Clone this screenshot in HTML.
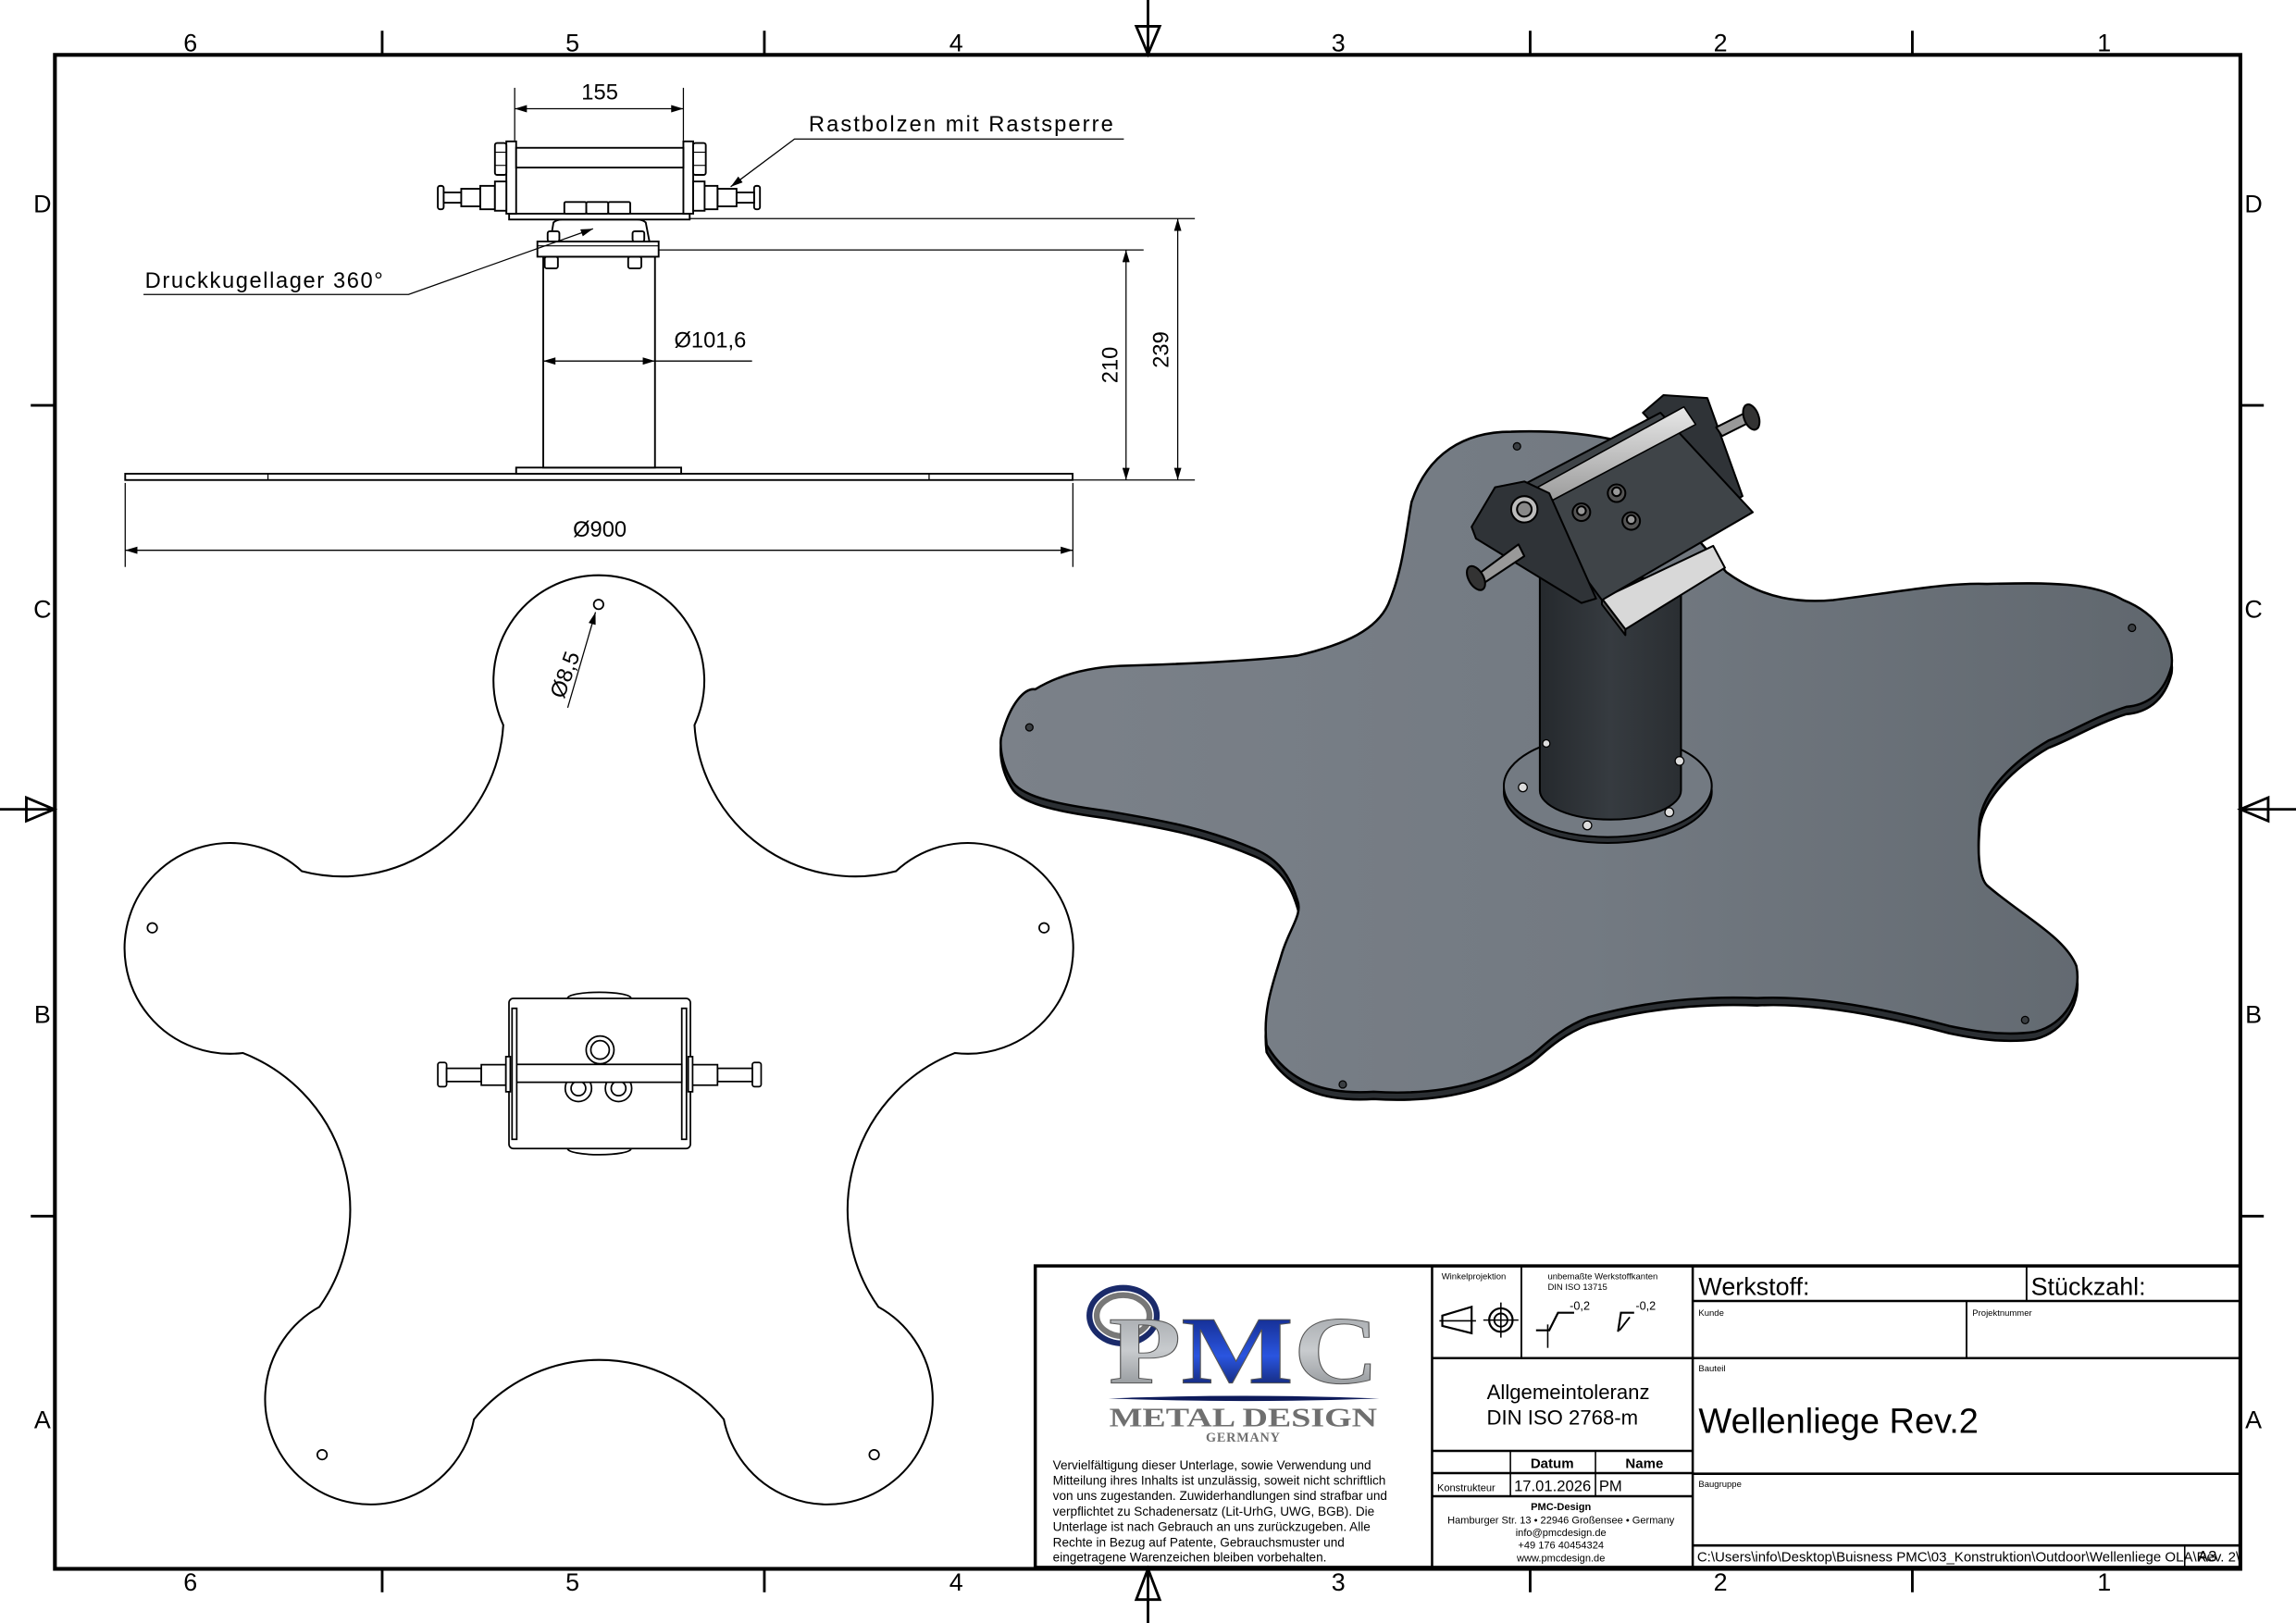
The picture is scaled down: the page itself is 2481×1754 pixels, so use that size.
<!DOCTYPE html>
<html><head><meta charset="utf-8"><style>
html,body{margin:0;padding:0;background:#fff;}
svg{display:block;}
.d{font-family:"Liberation Sans Narrow","Liberation Sans",sans-serif;}
.s{font-family:"Liberation Sans",sans-serif;}
</style></head><body>
<svg width="2481" height="1754" viewBox="0 0 1568 1109" preserveAspectRatio="none" xmlns="http://www.w3.org/2000/svg">
<defs>
<linearGradient id="plate" x1="0" y1="0" x2="1" y2="0">
<stop offset="0" stop-color="#7b8189"/><stop offset="0.5" stop-color="#737a82"/><stop offset="1" stop-color="#60676e"/></linearGradient>
<linearGradient id="tube" x1="0" y1="0" x2="1" y2="0">
<stop offset="0" stop-color="#25292d"/><stop offset="0.5" stop-color="#363b40"/><stop offset="1" stop-color="#2a2e32"/></linearGradient>
<linearGradient id="rod" x1="0" y1="0" x2="0" y2="1">
<stop offset="0" stop-color="#e8e8e8"/><stop offset="1" stop-color="#9a9a9a"/></linearGradient>
<linearGradient id="metal" x1="0" y1="0" x2="0" y2="1">
<stop offset="0" stop-color="#9a9ea2"/><stop offset="0.5" stop-color="#c8cbce"/><stop offset="1" stop-color="#7d8185"/></linearGradient>
<linearGradient id="blue" x1="0" y1="0" x2="0" y2="1">
<stop offset="0" stop-color="#0a1a6a"/><stop offset="0.55" stop-color="#2a55e0"/><stop offset="1" stop-color="#081040"/></linearGradient>
<marker id="ar" viewBox="0 0 10 6" refX="10" refY="3" markerWidth="9" markerHeight="5" orient="auto-start-reverse" markerUnits="userSpaceOnUse"><path d="M0,0 L10,3 L0,6 z" fill="#000"/></marker>
</defs>

<!-- frame -->
<rect x="37.5" y="37.5" width="1492.5" height="1034.5" fill="none" stroke="#000" stroke-width="2.6"/>
<g stroke="#000" stroke-width="1.8">
<line x1="261" y1="21" x2="261" y2="37"/><line x1="522" y1="21" x2="522" y2="37"/><line x1="1045" y1="21" x2="1045" y2="37"/><line x1="1306" y1="21" x2="1306" y2="37"/>
<line x1="261" y1="1072" x2="261" y2="1088"/><line x1="522" y1="1072" x2="522" y2="1088"/><line x1="1045" y1="1072" x2="1045" y2="1088"/><line x1="1306" y1="1072" x2="1306" y2="1088"/>
<line x1="21" y1="277" x2="37" y2="277"/><line x1="21" y1="831" x2="37" y2="831"/>
<line x1="1530" y1="277" x2="1546" y2="277"/><line x1="1530" y1="831" x2="1546" y2="831"/>
<line x1="784" y1="0" x2="784" y2="37"/><path d="M776,18 L792,18 L784,37 Z" fill="none"/>
<line x1="784" y1="1072" x2="784" y2="1109"/><path d="M776,1093 L792,1093 L784,1072 Z" fill="none"/>
<line x1="0" y1="553" x2="37" y2="553"/><path d="M18,545 L18,561 L37,553 Z" fill="none"/>
<line x1="1530" y1="553" x2="1568" y2="553"/><path d="M1549,545 L1549,561 L1530,553 Z" fill="none"/>
</g>
<g class="d" font-size="17" fill="#000" text-anchor="middle">
<text x="130" y="35">6</text><text x="391" y="35">5</text><text x="653" y="35">4</text><text x="914" y="35">3</text><text x="1175" y="35">2</text><text x="1437" y="35">1</text>
<text x="130" y="1087">6</text><text x="391" y="1087">5</text><text x="653" y="1087">4</text><text x="914" y="1087">3</text><text x="1175" y="1087">2</text><text x="1437" y="1087">1</text>
<text x="29" y="145">D</text><text x="29" y="422">C</text><text x="29" y="699">B</text><text x="29" y="976">A</text>
<text x="1539" y="145">D</text><text x="1539" y="422">C</text><text x="1539" y="699">B</text><text x="1539" y="976">A</text>
</g>

<!-- SIDE VIEW -->
<g stroke="#000" stroke-width="1.2" fill="#fff">
<rect x="85.5" y="323.7" width="647" height="4.3"/>
<line x1="183" y1="323.7" x2="183" y2="328" stroke-width="0.8"/><line x1="634.5" y1="323.7" x2="634.5" y2="328" stroke-width="0.8"/>
<rect x="352.5" y="319.5" width="112.7" height="4.2"/>
<rect x="371" y="175.4" width="76.3" height="144.1"/>
<rect x="372" y="175.4" width="9" height="8" rx="1.5"/><rect x="429" y="175.4" width="9" height="8" rx="1.5"/>
<rect x="367" y="165" width="82.8" height="10.4"/>
<line x1="367" y1="168" x2="449.8" y2="168" stroke-width="0.7"/>
<path d="M375.8,165 L378,152 Q380,150 384,150 L435,150 Q439,150 441,152 L443.5,165 Z"/>
<rect x="374" y="158" width="8" height="7" rx="1.5"/><rect x="432" y="158" width="8" height="7" rx="1.5"/>
<rect x="347.7" y="146" width="123.3" height="4"/>
<rect x="345.8" y="96.6" width="6.7" height="49.4"/><rect x="466.7" y="96.6" width="6.7" height="49.4"/>
<rect x="352.5" y="101" width="114.2" height="13.5"/>
<rect x="338" y="97.7" width="7.8" height="21.8" rx="1.5"/><rect x="473.4" y="97.7" width="8.6" height="21.8" rx="1.5"/>
<line x1="338" y1="104" x2="345.8" y2="104" stroke-width="0.7"/><line x1="338" y1="113" x2="345.8" y2="113" stroke-width="0.7"/>
<line x1="473.4" y1="104" x2="482" y2="104" stroke-width="0.7"/><line x1="473.4" y1="113" x2="482" y2="113" stroke-width="0.7"/>
<rect x="385.4" y="138" width="15" height="8" rx="1"/><rect x="400.4" y="138" width="15" height="8" rx="1"/><rect x="415.4" y="138" width="15" height="8" rx="1"/>
<rect x="299" y="127" width="4" height="16" rx="1.5"/><rect x="303" y="131.5" width="12" height="7"/><rect x="315" y="129" width="13" height="12"/><rect x="328" y="127" width="10" height="16"/><rect x="338" y="124" width="7.8" height="20"/>
<rect x="515" y="127" width="4" height="16" rx="1.5"/><rect x="503" y="131.5" width="12" height="7"/><rect x="490" y="129" width="13" height="12"/><rect x="480" y="127" width="10" height="16"/><rect x="473.4" y="124" width="7.8" height="20"/>
</g>
<g stroke="#000" stroke-width="0.8" fill="none">
<line x1="351.5" y1="60" x2="351.5" y2="96"/><line x1="466.7" y1="60" x2="466.7" y2="96"/>
<line x1="351.5" y1="74.3" x2="466.7" y2="74.3" marker-start="url(#ar)" marker-end="url(#ar)"/>
<polyline points="499,127.6 542.6,95 767.5,95" marker-start="url(#ar)"/>
<polyline points="98,201.2 279,201.2 405,156.3" marker-end="url(#ar)"/>
<line x1="471" y1="149.4" x2="816" y2="149.4"/><line x1="449.8" y1="170.8" x2="781" y2="170.8"/><line x1="733" y1="328" x2="816" y2="328"/>
<line x1="769" y1="170.8" x2="769" y2="328" marker-start="url(#ar)" marker-end="url(#ar)"/>
<line x1="804.3" y1="149.4" x2="804.3" y2="328" marker-start="url(#ar)" marker-end="url(#ar)"/>
<line x1="371" y1="246.7" x2="447.3" y2="246.7" marker-start="url(#ar)" marker-end="url(#ar)"/>
<line x1="447.3" y1="246.7" x2="513.6" y2="246.7"/>
<line x1="85.5" y1="330" x2="85.5" y2="387.4"/><line x1="732.7" y1="330" x2="732.7" y2="387.4"/>
<line x1="85.5" y1="376" x2="732.7" y2="376" marker-start="url(#ar)" marker-end="url(#ar)"/>
</g>
<g class="d" font-size="15" fill="#000">
<text x="409.6" y="68" text-anchor="middle">155</text>
<text x="552.3" y="89.7" letter-spacing="1.3">Rastbolzen mit Rastsperre</text>
<text x="99" y="196.6" letter-spacing="1">Druckkugellager 360°</text>
<text x="460.4" y="237.5">Ø101,6</text>
<text x="409.6" y="366.6" text-anchor="middle">Ø900</text>
<text transform="translate(763,249.4) rotate(-90)" text-anchor="middle">210</text>
<text transform="translate(798,239) rotate(-90)" text-anchor="middle">239</text>
<text transform="translate(385,478) rotate(-70)">Ø8,5</text>
</g>

<!-- PLAN VIEW -->
<path d="M343.7,495.4 A72,72 0 1 1 474.3,495.4 A110,110 0 0 0 611.9,595.3 A72,72 0 1 1 652.2,719.5 A115,115 0 0 0 599.9,893 A72,72 0 1 1 494.3,969.8 A110,110 0 0 0 323.7,969.8 A72,72 0 1 1 218.1,893 A115,115 0 0 0 165.8,719.5 A72,72 0 1 1 206.1,595.3 A110,110 0 0 0 343.7,495.4 Z" fill="none" stroke="#000" stroke-width="1.3"/>
<g fill="#fff" stroke="#000" stroke-width="1.1">
<circle cx="408.8" cy="413" r="3.3"/><circle cx="104" cy="634" r="3.3"/><circle cx="713" cy="634" r="3.3"/><circle cx="220" cy="994" r="3.3"/><circle cx="597" cy="994" r="3.3"/>
<line x1="387.7" y1="483.6" x2="406.7" y2="418.3" stroke-width="0.8" marker-end="url(#ar)"/>
<ellipse cx="409.3" cy="682" rx="21.6" ry="4"/><ellipse cx="409.3" cy="785" rx="21.6" ry="4"/>
<rect x="347.6" y="682.2" width="123.9" height="102.6" rx="3"/>
<rect x="349.7" y="689" width="3.2" height="89.5"/><rect x="465.6" y="689" width="3.2" height="89.5"/>
<circle cx="395" cy="743.7" r="9"/><circle cx="395" cy="743.7" r="5"/><circle cx="422.4" cy="743.7" r="9"/><circle cx="422.4" cy="743.7" r="5"/>
<rect x="352.9" y="727.3" width="112.7" height="12.2"/>
<circle cx="409.8" cy="717.4" r="9.5"/><circle cx="409.8" cy="717.4" r="6.3"/>
<rect x="299" y="726" width="6" height="16.5" rx="1.5"/><rect x="305" y="730" width="23.7" height="9"/><rect x="328.7" y="727.5" width="16.8" height="14"/><rect x="345.5" y="722" width="3" height="24"/>
<rect x="513.8" y="726" width="6" height="16.5" rx="1.5"/><rect x="490" y="730" width="23.8" height="9"/><rect x="472" y="727.5" width="18" height="14"/><rect x="470" y="722" width="3" height="24"/>
</g>

<!-- 3D VIEW -->
<g stroke="#000" stroke-width="1.6" stroke-linejoin="round">
<path transform="translate(0,5)" fill="#2b2f33" d="M964,343 C975,310 1000,295 1032,295 C1060,294 1080,296 1100,300 L1179,391 C1205,410 1230,412 1252,410 C1300,404 1330,398 1357,399 C1400,398 1430,398 1450,410 C1475,420 1485,440 1483,455 C1478,475 1465,482 1452,483 C1430,490 1415,500 1399,506 C1375,520 1355,540 1352,560 C1350,585 1352,600 1357,605 C1380,625 1410,640 1418,660 C1422,680 1410,700 1390,705 C1370,708 1350,705 1331,701 C1290,690 1240,680 1200,682 C1150,680 1110,688 1085,695 C1060,705 1050,720 1043,723 C1010,745 970,748 938,746 C905,748 880,740 865,714 C862,690 870,670 875,653 C880,635 890,625 886,615 C880,595 870,585 854,579 C820,565 790,560 755,554 C725,550 700,545 692,535 C682,520 683,505 684,503 C690,480 700,470 707,471 C725,460 745,456 765,455 C800,454 850,452 886,448 C920,440 940,430 948,413 C958,390 960,365 964,343 Z"/>
<path fill="url(#plate)" d="M964,343 C975,310 1000,295 1032,295 C1060,294 1080,296 1100,300 L1179,391 C1205,410 1230,412 1252,410 C1300,404 1330,398 1357,399 C1400,398 1430,398 1450,410 C1475,420 1485,440 1483,455 C1478,475 1465,482 1452,483 C1430,490 1415,500 1399,506 C1375,520 1355,540 1352,560 C1350,585 1352,600 1357,605 C1380,625 1410,640 1418,660 C1422,680 1410,700 1390,705 C1370,708 1350,705 1331,701 C1290,690 1240,680 1200,682 C1150,680 1110,688 1085,695 C1060,705 1050,720 1043,723 C1010,745 970,748 938,746 C905,748 880,740 865,714 C862,690 870,670 875,653 C880,635 890,625 886,615 C880,595 870,585 854,579 C820,565 790,560 755,554 C725,550 700,545 692,535 C682,520 683,505 684,503 C690,480 700,470 707,471 C725,460 745,456 765,455 C800,454 850,452 886,448 C920,440 940,430 948,413 C958,390 960,365 964,343 Z"/>
</g>
<g fill="#3a3e42" stroke="#000" stroke-width="0.8">
<circle cx="1036" cy="305" r="2.5"/><circle cx="703" cy="497" r="2.5"/><circle cx="1456" cy="429" r="2.5"/><circle cx="1383" cy="697" r="2.5"/><circle cx="917" cy="741" r="2.5"/>
</g>
<g stroke="#000" stroke-width="1.3">
<ellipse cx="1098" cy="541" rx="71" ry="35" fill="#2b2f33"/>
<ellipse cx="1098" cy="537" rx="71" ry="35" fill="#737a82"/>
<path d="M1051.6,395 L1051.6,540 A48.2,20 0 0 0 1148,540 L1148,395 Z" fill="url(#tube)"/>
</g>
<g fill="#ddd" stroke="#000" stroke-width="0.8">
<circle cx="1040" cy="538" r="3"/><circle cx="1147" cy="520" r="3"/><circle cx="1140" cy="555" r="3"/><circle cx="1084" cy="564" r="3"/><circle cx="1056" cy="508" r="2.5"/>
</g>
<g stroke="#000" stroke-width="1.3" stroke-linejoin="round">
<path d="M1094,409 L1170,373 L1178,388 L1110,430 Z" fill="#d8d8d8"/>
<path d="M1094,409 L1110,430 L1110,434 L1094,413 Z" fill="#555"/>
<path d="M1122,282 L1136,270 L1166,272 L1190,339 L1180,345 Z" fill="#2f3337"/>
<path d="M1037,333 L1134,282 L1197,350 L1094,410 Z" fill="#3f4448"/>
<path d="M1050,333 L1150,278 L1158,290 L1058,343 Z" fill="url(#rod)" stroke-width="1"/>
<path d="M1005,360 L1021,333 L1041,329 L1058,337 L1090,409 L1080,412 L1008,368 Z" fill="#2f3337"/>
<circle cx="1041" cy="348" r="9" fill="#bbb"/><circle cx="1041" cy="348" r="5" fill="#888"/>
<path d="M1037,372 L1010,392 L1014,398 L1041,380 Z" fill="#999"/>
<ellipse cx="1008" cy="395" rx="5" ry="9" fill="#333" transform="rotate(-30 1008 395)"/>
<path d="M1172,292 L1192,282 L1196,288 L1176,298 Z" fill="#999"/>
<ellipse cx="1196" cy="285" rx="5" ry="9" fill="#333" transform="rotate(-20 1196 285)"/>
<circle cx="1080" cy="350" r="6" fill="#555"/><circle cx="1104" cy="337" r="6" fill="#555"/><circle cx="1114" cy="356" r="6" fill="#555"/>
<circle cx="1080" cy="349" r="3" fill="#999"/><circle cx="1104" cy="336" r="3" fill="#999"/><circle cx="1114" cy="355" r="3" fill="#999"/>
</g>

<!-- TITLE BLOCK -->
<g stroke="#000" fill="none">
<rect x="707" y="865" width="823" height="206" stroke-width="2.2"/>
<line x1="978" y1="865" x2="978" y2="1071" stroke-width="1.6"/>
<line x1="1156" y1="865" x2="1156" y2="1071" stroke-width="1.6"/>
<line x1="1039" y1="865" x2="1039" y2="928" stroke-width="1.2"/>
<line x1="1384" y1="865" x2="1384" y2="889" stroke-width="1.2"/>
<line x1="1343" y1="889" x2="1343" y2="928" stroke-width="1.2"/>
<line x1="1156" y1="889" x2="1530" y2="889" stroke-width="1.6"/>
<line x1="978" y1="928" x2="1530" y2="928" stroke-width="1.6"/>
<line x1="1156" y1="1007" x2="1530" y2="1007" stroke-width="1.6"/>
<line x1="1156" y1="1056" x2="1530" y2="1056" stroke-width="1.6"/>
<line x1="978" y1="991.4" x2="1156" y2="991.4" stroke-width="1.6"/>
<line x1="978" y1="1006.6" x2="1156" y2="1006.6" stroke-width="1.6"/>
<line x1="978" y1="1022.4" x2="1156" y2="1022.4" stroke-width="1.6"/>
<line x1="1031.5" y1="991.4" x2="1031.5" y2="1022.4" stroke-width="1"/>
<line x1="1089.6" y1="991.4" x2="1089.6" y2="1022.4" stroke-width="1"/>
<line x1="1492" y1="1056" x2="1492" y2="1071" stroke-width="1"/>
<path d="M985,899 L1005,893 L1005,911 L985,906 Z" stroke-width="1.4"/>
<line x1="983" y1="902.5" x2="1008" y2="902.5" stroke-width="1"/>
<circle cx="1025" cy="902" r="8" stroke-width="1.4"/><circle cx="1025" cy="902" r="4.5" stroke-width="1.2"/>
<line x1="1013" y1="902" x2="1037" y2="902" stroke-width="1"/><line x1="1025" y1="890" x2="1025" y2="914" stroke-width="1"/>
<polyline points="1049,909 1058,909 1064,897 1075,897" stroke-width="1.4"/><line x1="1057" y1="905" x2="1057" y2="921" stroke-width="1"/>
<polyline points="1116,897 1107,897 1105,910" stroke-width="1.4"/><line x1="1113" y1="900" x2="1106" y2="909" stroke-width="1.2"/>
</g>
<g class="s" fill="#000">
<text x="984.5" y="874" font-size="6">Winkelprojektion</text>
<text x="1057" y="874" font-size="6">unbemaßte Werkstoffkanten</text>
<text x="1057" y="881.5" font-size="6">DIN ISO 13715</text>
<text x="1072" y="895" font-size="8">-0,2</text><text x="1117" y="895" font-size="8">-0,2</text>
<text x="1160" y="885" font-size="17">Werkstoff:</text>
<text x="1387" y="885" font-size="17">Stückzahl:</text>
<text x="1160" y="899" font-size="6">Kunde</text>
<text x="1347" y="899" font-size="6">Projektnummer</text>
<text x="1160" y="937" font-size="6">Bauteil</text>
<text x="1160" y="979" font-size="24">Wellenliege Rev.2</text>
<text x="1160" y="1016" font-size="6">Baugruppe</text>
<text x="1071" y="956" font-size="14" text-anchor="middle">Allgemeintoleranz</text>
<text x="1067" y="973.5" font-size="14" text-anchor="middle">DIN ISO 2768-m</text>
<text x="1060" y="1003" font-size="9.5" font-weight="bold" text-anchor="middle">Datum</text>
<text x="1123" y="1003" font-size="9.5" font-weight="bold" text-anchor="middle">Name</text>
<text x="981.5" y="1019" font-size="7">Konstrukteur</text>
<text x="1034" y="1019" font-size="10.5">17.01.2026</text>
<text x="1092" y="1019" font-size="10.5">PM</text>
<g font-size="7" text-anchor="middle">
<text x="1066" y="1032" font-weight="bold">PMC-Design</text>
<text x="1066" y="1041">Hamburger Str. 13 • 22946 Großensee • Germany</text>
<text x="1066" y="1049.5">info@pmcdesign.de</text>
<text x="1066" y="1058">+49 176 40454324</text>
<text x="1066" y="1067">www.pmcdesign.de</text>
</g>
<text x="1159" y="1067" font-size="9.5">C:\Users\info\Desktop\Buisness PMC\03_Konstruktion\Outdoor\Wellenliege OLA\Rev. 2\</text>
<text x="1501" y="1067" font-size="10.5">A3</text>
<g font-size="8.6">
<text x="719" y="1004">Vervielfältigung dieser Unterlage, sowie Verwendung und</text>
<text x="719" y="1014.6">Mitteilung ihres Inhalts ist unzulässig, soweit nicht schriftlich</text>
<text x="719" y="1025">von uns zugestanden. Zuwiderhandlungen sind strafbar und</text>
<text x="719" y="1035.6">verpflichtet zu Schadenersatz (Lit-UrhG, UWG, BGB). Die</text>
<text x="719" y="1046">Unterlage ist nach Gebrauch an uns zurückzugeben. Alle</text>
<text x="719" y="1056.7">Rechte in Bezug auf Patente, Gebrauchsmuster und</text>
<text x="719" y="1067">eingetragene Warenzeichen bleiben vorbehalten.</text>
</g>
</g>
<g>
<ellipse cx="767" cy="899" rx="23" ry="19" fill="none" stroke="#1a2a6a" stroke-width="4"/>
<ellipse cx="767" cy="899" rx="18" ry="14" fill="none" stroke="#777" stroke-width="4"/>
<text x="757" y="945" font-family="'Liberation Serif',serif" font-weight="bold" font-size="66" textLength="185" lengthAdjust="spacingAndGlyphs" fill="url(#metal)" stroke="#555" stroke-width="0.6">P<tspan fill="url(#blue)">M</tspan>C</text>
<path d="M757,955.6 Q850,952 942,955.6 Q850,959 757,955.6 Z" fill="#0d1a5a"/>
<text x="849" y="974.5" font-family="'Liberation Serif',serif" font-weight="bold" font-size="18" text-anchor="middle" textLength="183" lengthAdjust="spacingAndGlyphs" fill="#6f6f6f">METAL DESIGN</text>
<text x="849" y="985" font-family="'Liberation Serif',serif" font-weight="bold" font-size="9" text-anchor="middle" fill="#6f6f6f" letter-spacing="0.5">GERMANY</text>
</g>
</svg>
</body></html>
